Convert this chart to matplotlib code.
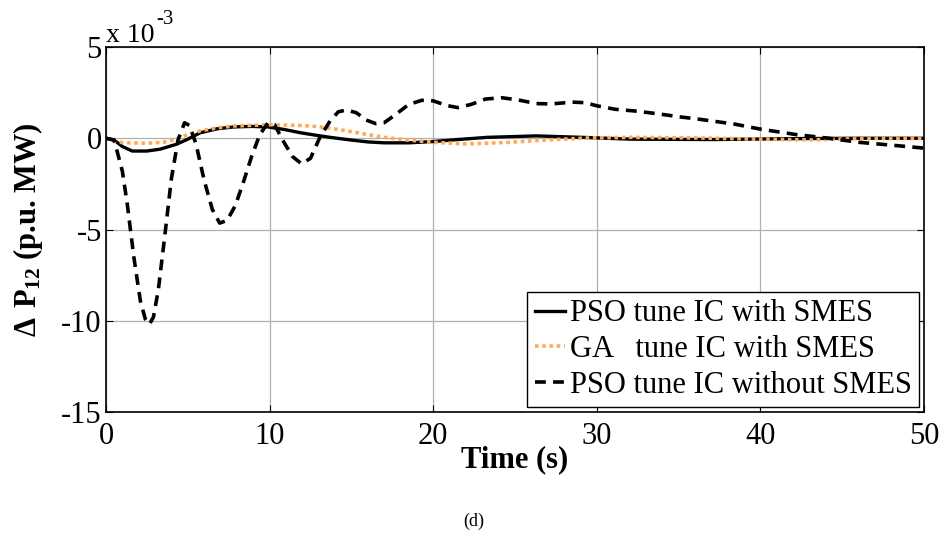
import matplotlib.pyplot as plt

plt.rcParams['font.family'] = ['Liberation Serif', 'DejaVu Serif']
plt.rcParams['mathtext.fontset'] = 'custom'
plt.rcParams['mathtext.rm'] = 'Liberation Serif'
plt.rcParams['mathtext.bf'] = 'Liberation Serif:bold'
plt.rcParams['axes.unicode_minus'] = False

# Дані (значення у одиницях 1e-3)
t_pso = [0, 0.5, 1.0, 1.6, 2.5, 3.3, 4.3, 5.0, 5.75, 6.8, 7.8, 8.9, 9.9, 10.9, 11.9, 12.8,
         13.7, 15.0, 16.0, 17.0, 18.5, 20.0, 21.5, 23.3, 26.3, 29.1, 32.1, 37.2, 42.2, 46, 50]
p_pso = [0, -0.1, -0.45, -0.7, -0.7, -0.6, -0.33, -0.05, 0.3, 0.52, 0.62, 0.65, 0.62, 0.48, 0.3, 0.17,
         0.05, -0.1, -0.2, -0.25, -0.25, -0.18, -0.07, 0.05, 0.13, 0.05, -0.05, -0.07, -0.02, 0.0, 0.0]

t_ga = [0, 0.6, 1.2, 2.5, 3.5, 4.3, 5.0, 5.75, 6.8, 7.8, 9.9, 11.0, 11.9, 12.8, 13.7, 14.4, 15.7,
        17.0, 18.5, 20.0, 22.0, 24.5, 27.0, 29.6, 32.0, 36.0, 40.0, 43.0, 46.0, 50.0]
p_ga = [0, -0.2, -0.25, -0.27, -0.22, -0.05, 0.2, 0.4, 0.57, 0.67, 0.74, 0.72, 0.7, 0.65, 0.55, 0.45, 0.25,
        0.05, -0.1, -0.22, -0.31, -0.23, -0.09, 0.02, 0.05, 0.02, -0.05, -0.09, -0.02, 0.0]

t_nosmes = [0, 0.5, 1.0, 1.3, 1.7, 2.1, 2.4, 2.65, 2.9, 3.2, 3.6, 4.0, 4.4, 4.8, 5.1, 5.5, 6.0, 6.5,
            6.95, 7.4, 7.9, 8.4, 8.9, 9.4, 9.9, 10.3, 10.8, 11.4, 11.95, 12.5, 13.1, 13.7, 14.2, 14.7,
            15.3, 15.9, 16.5, 17.0, 17.7, 18.5, 19.3, 20.0, 20.8, 21.5, 22.3, 23.2, 24.2, 25.2, 26.3,
            27.2, 28.5, 29.3, 30.0, 31.1, 32.5, 33.9, 35.0, 36.2, 38.4, 40.0, 42.2, 44.2, 46.0, 48.3, 50.0]
p_nosmes = [0, -0.1, -1.8, -3.6, -6.5, -8.9, -9.9, -10.2, -9.8, -8.3, -5.3, -2.2, -0.1, 0.85, 0.7, -0.3,
            -2.3, -3.9, -4.65, -4.5, -3.7, -2.4, -1.0, 0.2, 0.85, 0.75, -0.1, -1.0, -1.4, -1.1, 0.1, 0.95,
            1.45, 1.55, 1.4, 1.0, 0.8, 0.85, 1.3, 1.85, 2.08, 2.05, 1.8, 1.68, 1.85, 2.15, 2.22, 2.1, 1.9,
            1.88, 1.98, 1.95, 1.78, 1.59, 1.48, 1.32, 1.18, 1.05, 0.78, 0.5, 0.2, 0.0, -0.22, -0.4, -0.54]

x_ticks = [0, 10, 20, 30, 40, 50]
y_ticks = [-15, -10, -5, 0, 5]

fig = plt.figure(figsize=(9.48, 5.48), dpi=100)
ax = fig.add_axes([0.1118, 0.2482, 0.8629, 0.666])

ax.plot(t_pso, p_pso, color='black', lw=2.4, label='PSO tune IC with SMES')
ax.plot(t_ga, p_ga, color='#FFAA55', lw=2.6, linestyle=(0, (1, 1)), label='GA   tune IC with SMES')
ax.plot(t_nosmes, p_nosmes, color='black', lw=2.6, linestyle=(0, (3, 2)), label='PSO tune IC without SMES')

ax.set_xlim(0, 50)
ax.set_ylim(-15, 5)
ax.set_xticks(x_ticks)
ax.set_yticks(y_ticks)
ax.grid(True, color='#b0b0b0', lw=0.9)
ax.tick_params(direction='in', top=True, right=True, labelsize=22, length=5)
ax.tick_params(axis='x', pad=7)
ax.tick_params(axis='y', pad=3)
for s in ax.spines.values():
    s.set_linewidth(1.2)

ax.set_xlabel('Time (s)', fontsize=22, fontweight='bold', labelpad=-4)
ax.set_ylabel(r'$\mathbf{\Delta\ P_{12}}$ (p.u. MW)', fontsize=22, fontweight='bold', labelpad=12)
# множник осі y
ax.text(0.0, 0.998, 'x 10', transform=ax.transAxes, fontsize=20, ha='left', va='bottom')
ax.text(0.062, 1.05, '-3', transform=ax.transAxes, fontsize=15, ha='left', va='bottom')

leg = ax.legend(loc='lower right', fontsize=22, handlelength=1.0, handletextpad=0.15,
                borderpad=0.25, labelspacing=0.22, fancybox=False, framealpha=1,
                borderaxespad=0.15)
leg.get_frame().set_edgecolor('black')
leg.get_frame().set_linewidth(1.0)

fig.text(0.5, 0.049, '(d)', ha='center', va='center', fontsize=13)

plt.savefig('out.png', dpi=100)
